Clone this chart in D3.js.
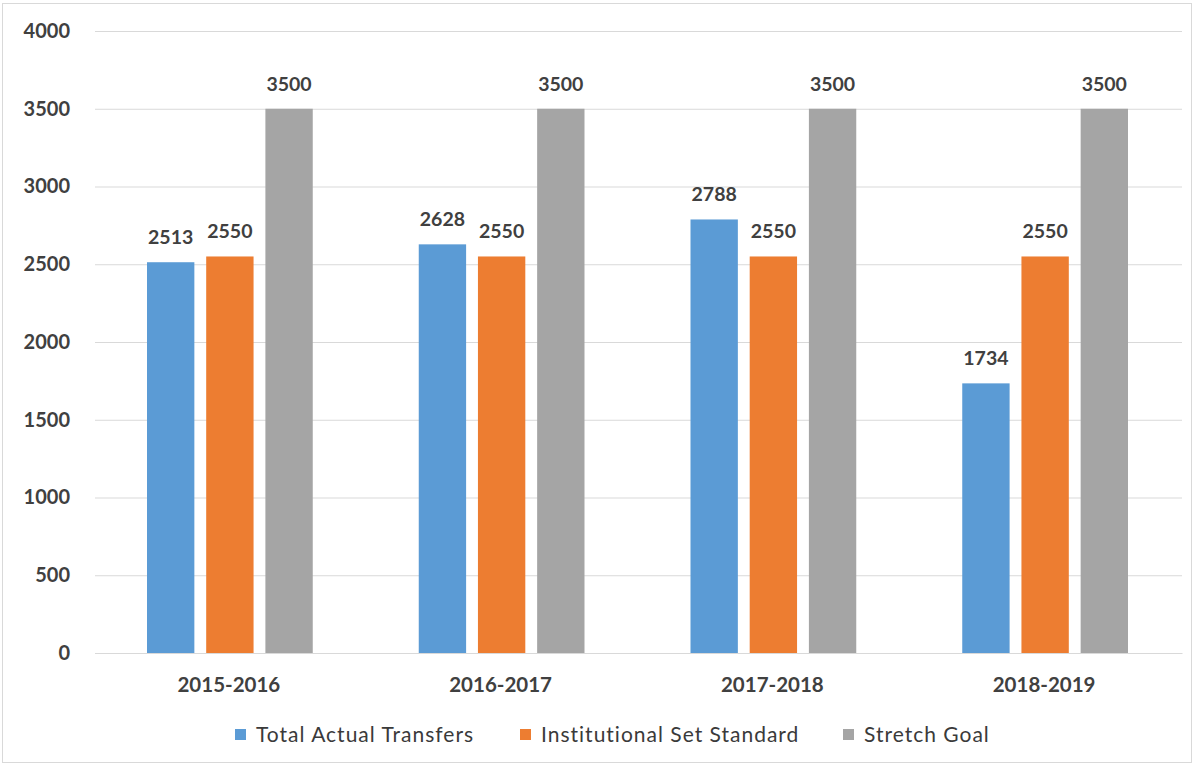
<!DOCTYPE html>
<html><head><meta charset="utf-8">
<script src="https://cdn.jsdelivr.net/npm/d3@7"></script>
<style>body{margin:0;background:#fff;} svg{display:block;}</style>
</head><body>
<svg id="c" width="1201" height="767"></svg>
<script>
const categories = ["2015-2016","2016-2017","2017-2018","2018-2019"];
const seriesNames = ["Total Actual Transfers","Institutional Set Standard","Stretch Goal"];
const totalActual = [2513,2628,2788,1734];
const setStandard = [2550,2550,2550,2550];
const stretchGoal = [3500,3500,3500,3500];
const yTicks = [0,500,1000,1500,2000,2500,3000,3500,4000];
const colors = ["#5B9BD5","#ED7D31","#A5A5A5"];

(function(){
const series = [totalActual, setStandard, stretchGoal];
const svg = d3.select("#c");
const font = "Lato, 'Open Sans', sans-serif";
const mLeft = 95, mRight = 1182, mTop = 31, mBottom = 653;

svg.append("rect").attr("x",2.5).attr("y",3.5).attr("width",1189).attr("height",759)
  .attr("fill","#fff").attr("stroke","#D9D9D9");

const x0 = d3.scaleBand().domain(categories).range([mLeft,mRight]).paddingInner(0).paddingOuter(0);
const x1 = d3.scaleBand().domain(d3.range(3)).range([52, x0.bandwidth()-54]).paddingInner(0.2).paddingOuter(0);
const y = d3.scaleLinear().domain([0,4000]).range([mBottom, mTop]);

const yAxis = svg.append("g").attr("transform",`translate(${mLeft},0)`)
  .call(d3.axisLeft(y).tickValues(yTicks).tickFormat(d3.format("d")).tickSize(-(mRight-mLeft)).tickPadding(25));
yAxis.select(".domain").remove();
yAxis.selectAll(".tick line").attr("stroke","#D9D9D9").attr("stroke-width",1.2);
yAxis.selectAll(".tick text").attr("font-family",font).attr("font-weight","bold")
  .attr("font-size",20).attr("fill","#404040");

const g = svg.append("g");
categories.forEach((c,i)=>{
  series.forEach((s,j)=>{
    const xx = x0(c)+x1(j);
    g.append("rect").attr("x",xx).attr("y",y(s[i])).attr("width",x1.bandwidth())
      .attr("height",y(0)-y(s[i])).attr("fill",colors[j]);
    g.append("text").attr("x",xx+x1.bandwidth()/2).attr("y",y(s[i])-18)
      .attr("text-anchor","middle").attr("font-family",font).attr("font-weight","bold")
      .attr("font-size",19.5).attr("fill","#404040").text(s[i]);
  });
});

const xAxis = svg.append("g").attr("transform",`translate(0,${mBottom})`)
  .call(d3.axisBottom(x0).tickSize(0).tickPadding(24));
xAxis.select(".domain").attr("stroke","#D9D9D9").attr("stroke-width",1.2);
xAxis.selectAll(".tick text").attr("font-family",font).attr("font-weight","bold")
  .attr("font-size",20.5).attr("fill","#404040").attr("dx",-2);

const legendX = [235, 520, 843];
const lg = svg.append("g");
seriesNames.forEach((n,j)=>{
  lg.append("rect").attr("x",legendX[j]).attr("y",729).attr("width",11).attr("height",11).attr("fill",colors[j]);
  lg.append("text").attr("x",legendX[j]+21).attr("y",742).attr("font-family",font)
    .attr("font-size",21).attr("letter-spacing",1).attr("fill","#3a3a3a").text(n);
});
})();
</script>
</body></html>
